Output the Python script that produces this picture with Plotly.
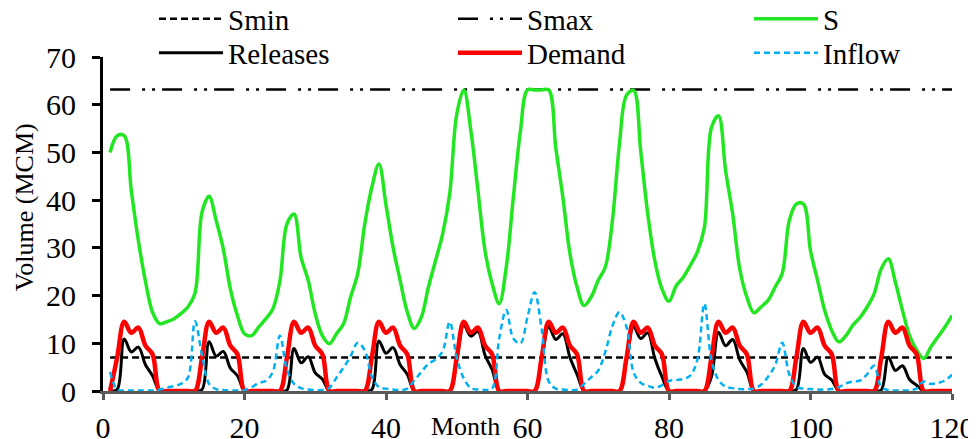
import plotly.graph_objects as go

months = list(range(1, 121))

SMIN = 7.0
SMAX = 63.2

storage = [50, 53.5, 53.5, 42, 31.5, 23, 16.5, 14.1, 14.5, 15.1, 16.2, 17.6,
           20.5, 37.5, 40.8, 35.7, 29.8, 21.4, 15.8, 12, 11.6, 13.4, 15.1, 17.2,
           23, 35, 37.1, 28, 23.2, 16.2, 11.6, 9.9, 12, 14.1, 19.7, 24.6,
           35, 42.7, 47.6, 39, 30.1, 23.2, 16.6, 13.1, 15.5, 21.8, 27.3, 32.9,
           41.3, 58, 63.1, 54.5, 42, 29.4, 22.5, 18.3, 26, 40.6, 54.5, 63.1,
           63.1, 63.1, 63.1, 51, 40.6, 28.8, 21.8, 17.9, 19.7, 23.2, 26, 35.7,
           51.8, 62, 63, 50.3, 37.1, 27.3, 21.4, 18.8, 22, 23.8, 26.3, 29.1,
           34.3, 55.2, 57.7, 46.2, 37.1, 25.6, 19.7, 16.4, 17.6, 19, 21.8, 24.6,
           35.7, 39.2, 39.2, 29.4, 23.2, 16.9, 12.7, 10.3, 11.6, 13.8, 15.4, 17.6,
           20.4, 25.6, 27.7, 22.8, 16.9, 11.6, 8.6, 6.8, 9.2, 11.3, 13.4, 15.8]

releases = [0, 0.3, 10.9, 8.2, 9.2, 5.5, 3.2, 0, 0, 0, 0, 0,
            0, 0.3, 10.3, 7.3, 8.3, 4.8, 3.2, 0, 0, 0, 0, 0,
            0, 0.2, 8.9, 5.9, 7.2, 3.8, 2.5, 0, 0, 0, 0, 0,
            0, 0.3, 10.5, 7.9, 9.1, 5.5, 3.5, 0, 0, 0, 0, 0,
            0, 6.5, 13.8, 11.5, 12.5, 7.5, 4.5, 0, 0, 0, 0, 0,
            0, 6.5, 13.5, 10.8, 12.0, 7.0, 3.5, 0, 0, 0, 0, 0,
            0, 6.5, 13.5, 11.0, 12.2, 6.8, 3.0, 0, 0, 0, 0, 0,
            0, 3.0, 12.3, 9.5, 10.8, 6.5, 4.0, 0, 0, 0, 0, 0,
            0, 0.3, 8.9, 6.0, 7.1, 3.5, 2.3, 0, 0, 0, 0, 0,
            0, 0.2, 7.1, 4.3, 5.3, 2.4, 1.2, 0, 0, 0, 0, 0]

demand = [0, 7, 14.5, 12.2, 13.3, 9.5, 7.7, 0, 0, 0, 0, 0,
          0, 7, 14.5, 12.2, 13.3, 9.5, 7.7, 0, 0, 0, 0, 0,
          0, 7, 14.5, 12.2, 13.3, 9.5, 7.7, 0, 0, 0, 0, 0,
          0, 7, 14.5, 12.2, 13.3, 9.5, 7.7, 0, 0, 0, 0, 0,
          0, 7, 14.5, 12.2, 13.3, 9.5, 7.7, 0, 0, 0, 0, 0,
          0, 7, 14.5, 12.2, 13.3, 9.5, 7.7, 0, 0, 0, 0, 0,
          0, 7, 14.5, 12.2, 13.3, 9.5, 7.7, 0, 0, 0, 0, 0,
          0, 7, 14.5, 12.2, 13.3, 9.5, 7.7, 0, 0, 0, 0, 0,
          0, 7, 14.5, 12.2, 13.3, 9.5, 7.7, 0, 0, 0, 0, 0,
          0, 7, 14.5, 12.2, 13.3, 9.5, 7.7, 0, 0, 0, 0, 0]

inflow = [4.0, 0.3, 0.1, 0.1, 0.1, 0.1, 0.1, 0.3, 0.7, 1.0, 1.5, 2.8,
          14.6, 7.5, 1.5, 0.4, 0.2, 0.1, 0.1, 0.2, 0.8, 1.7, 2.1, 4.0,
          11.6, 4.5, 1.5, 0.6, 0.3, 0.2, 0.2, 0.7, 2.8, 4.9, 7.3, 10.1,
          8.5, 3.0, 0.8, 0.5, 0.3, 0.2, 0.5, 2.2, 4.0, 5.7, 6.6, 8.3,
          14.5, 7.0, 2.6, 0.6, 0.3, 0.2, 0.5, 11.0, 17.0, 11.0, 10.0, 15.5,
          20.7, 13.0, 2.0, 0.5, 0.3, 0.2, 0.3, 1.5, 2.9, 4.3, 8.2, 13.6,
          16.5, 13.4, 3.9, 1.7, 1.1, 0.7, 1.2, 2.1, 2.3, 2.5, 3.2, 6.5,
          18.3, 6.5, 2.3, 0.9, 0.6, 0.4, 0.4, 0.5, 1.3, 3.0, 5.4, 10.1,
          3.5, 0.9, 0.5, 0.4, 0.3, 0.3, 0.4, 0.8, 1.6, 2.0, 2.2, 3.5,
          5.3, 0.8, 0.2, 0.1, 0.1, 0.2, 0.5, 2.0, 1.5, 1.7, 2.2, 3.4]

x_ticks = [0, 20, 40, 60, 80, 100, 120]
y_ticks = [0, 10, 20, 30, 40, 50, 60, 70]

FONT = "Liberation Serif"
TICK_FS = 30
LEG_FS = 29
TITLE_FS = 26
SMOOTH = 1.0

# page body has an 8px margin, so the figure is sized to the visible area
W, H = 968, 431
ML, MR, MT, MB = 95, 24, 49, 48
PW, PH = W - ML - MR, H - MT - MB

fig = go.Figure()
fig.add_trace(go.Scatter(x=[months[0], months[-1]], y=[SMIN, SMIN], name="Smin", mode="lines",
                         legend="legend",
                         line=dict(color="black", width=2.5, dash="7px,4px")))
fig.add_trace(go.Scatter(x=[months[0], months[-1]], y=[SMAX, SMAX], name="Smax", mode="lines",
                         legend="legend2",
                         line=dict(color="black", width=2.5, dash="20px,12px,3px,7px,3px,7px")))
fig.add_trace(go.Scatter(x=months, y=storage, name="S", mode="lines",
                         legend="legend3",
                         line=dict(color="#22e622", width=3.5, shape="spline", smoothing=SMOOTH)))
fig.add_trace(go.Scatter(x=months, y=releases, name="Releases", mode="lines",
                         legend="legend4",
                         line=dict(color="black", width=3, shape="spline", smoothing=SMOOTH)))
fig.add_trace(go.Scatter(x=months, y=demand, name="Demand", mode="lines",
                         legend="legend5",
                         line=dict(color="#ff0000", width=4.5, shape="spline", smoothing=SMOOTH)))
fig.add_trace(go.Scatter(x=months, y=inflow, name="Inflow", mode="lines",
                         legend="legend6",
                         line=dict(color="#00b0f0", width=2.5, dash="6px,4px", shape="spline", smoothing=SMOOTH)))


def leg(xpx, ypx):
    # xpx: legend left edge, ypx: row centre, both in figure pixels
    return dict(orientation="h", xanchor="left", yanchor="middle",
                x=(xpx - ML) / PW, y=(H - MB - ypx) / PH,
                font=dict(family=FONT, size=LEG_FS, color="black"),
                bgcolor="rgba(0,0,0,0)", itemwidth=64)


col_x = [146, 445, 741]
row_y = [11, 45]

fig.update_layout(
    width=W, height=H,
    margin=dict(l=ML, r=MR, t=MT, b=MB, pad=0, autoexpand=False),
    paper_bgcolor="white", plot_bgcolor="white",
    font=dict(family=FONT, size=TITLE_FS, color="black"),
    showlegend=True,
    legend=leg(col_x[0], row_y[0]),
    legend2=leg(col_x[1], row_y[0]),
    legend3=leg(col_x[2], row_y[0]),
    legend4=leg(col_x[0], row_y[1]),
    legend5=leg(col_x[1], row_y[1]),
    legend6=leg(col_x[2], row_y[1]),
    xaxis=dict(range=[0, 120], tickmode="array", tickvals=x_ticks,
               showline=True, linecolor="#595959", linewidth=3,
               ticks="outside", tickcolor="#595959", tickwidth=3, ticklen=6,
               showgrid=False, zeroline=False, ticklabelstandoff=2,
               tickfont=dict(family=FONT, size=TICK_FS, color="black")),
    yaxis=dict(range=[0, 70], tickmode="array", tickvals=y_ticks,
               showline=True, linecolor="black", linewidth=3,
               ticks="outside", tickcolor="black", tickwidth=3, ticklen=8,
               showgrid=False, zeroline=False, ticklabelstandoff=10,
               tickfont=dict(family=FONT, size=TICK_FS, color="black")),
    annotations=[
        dict(text="Month", x=51.2, xref="x", y=(H - MB - 418) / PH, yref="paper",
             xanchor="center", yanchor="middle", showarrow=False,
             font=dict(family=FONT, size=TITLE_FS, color="black")),
        dict(text="Volume (MCM)", x=(16 - ML) / PW, xref="paper", y=0.5505, yref="paper",
             xanchor="center", yanchor="middle", textangle=-90, showarrow=False,
             font=dict(family=FONT, size=TITLE_FS, color="black")),
    ],
)

fig.write_html("out.html")
